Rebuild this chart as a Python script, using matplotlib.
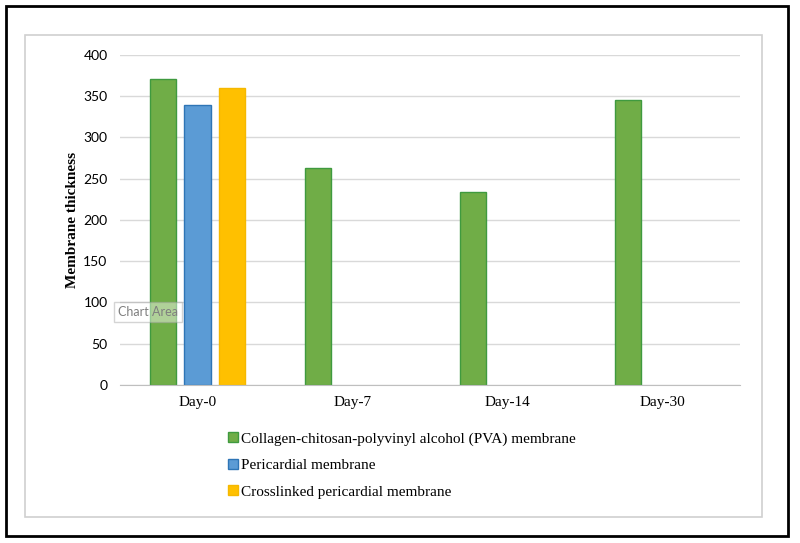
import numpy as np
import matplotlib
matplotlib.use("Agg")
from matplotlib import pyplot as plt
from matplotlib.patches import Rectangle

days = ["Day-0", "Day-7", "Day-14", "Day-30"]
pva = [370, 263, 234, 345]
peri = [339, np.nan, np.nan, np.nan]
cross = [360, np.nan, np.nan, np.nan]
labels = ["Collagen-chitosan-polyvinyl alcohol (PVA) membrane",
          "Pericardial membrane",
          "Crosslinked pericardial membrane"]
yticks = [0, 50, 100, 150, 200, 250, 300, 350, 400]

serif = "Liberation Serif"
sans = "Lato"

fig = plt.figure(figsize=(8, 5.43), dpi=100)
W, H = 800, 543

# outer black frame and inner gray chart-area frame
fig.patches.append(Rectangle((6 / W, 1 - 536 / H), 782 / W, 530 / H, transform=fig.transFigure,
                             fill=False, edgecolor="black", linewidth=2))
fig.patches.append(Rectangle((25 / W, 1 - 517 / H), 737 / W, 482 / H, transform=fig.transFigure,
                             fill=False, edgecolor="#d0d0d0", linewidth=1.2))

ax = fig.add_axes([120 / W, 1 - 385 / H, 620 / W, (385 - 54.7) / H])
x = np.arange(len(days))
off = 0.2226
w = 0.168
ax.bar(x - off, pva, w, color="#70AD47", edgecolor="#3f9a3f", linewidth=1, label=labels[0], zorder=3)
ax.bar(x, peri, w, color="#5B9BD5", edgecolor="#2e75b6", linewidth=1, label=labels[1], zorder=3)
ax.bar(x + off, cross, w, color="#FFC000", edgecolor="#f5b800", linewidth=1, label=labels[2], zorder=3)

ax.set_xlim(-0.5, 3.5)
ax.set_ylim(0, 400)
ax.set_yticks(yticks)
ax.set_xticks(x)
ax.set_xticklabels(days, fontfamily=serif, fontsize=11)
ax.tick_params(axis="y", length=0, pad=9, labelsize=10)
ax.tick_params(axis="x", length=0, pad=8)
for t in ax.get_yticklabels():
    t.set_fontfamily(sans)
ax.grid(axis="y", color="#d9d9d9", linewidth=1, zorder=0)
for s in ["top", "right", "left"]:
    ax.spines[s].set_visible(False)
ax.spines["bottom"].set_color("#bfbfbf")
ax.spines["bottom"].set_zorder(4)
ax.set_ylabel("Membrane thickness", fontfamily=serif, fontweight="bold", fontsize=11, labelpad=3)

ax.legend(loc="upper left", bbox_to_anchor=(222 / W, 1 - 426 / H), bbox_transform=fig.transFigure,
          frameon=False, prop={"family": serif, "size": 11}, handlelength=0.65, handleheight=0.65,
          handletextpad=0.2, labelspacing=0.85, borderaxespad=0)

fig.text(118 / W, 1 - 312 / H, "Chart Area", fontfamily=sans, fontsize=9, color="#7f7f7f",
         va="center", ha="left",
         bbox=dict(boxstyle="square,pad=0.35", facecolor="white", alpha=0.45, edgecolor="#a0a0a0"))

fig.savefig("out.png", dpi=100)
